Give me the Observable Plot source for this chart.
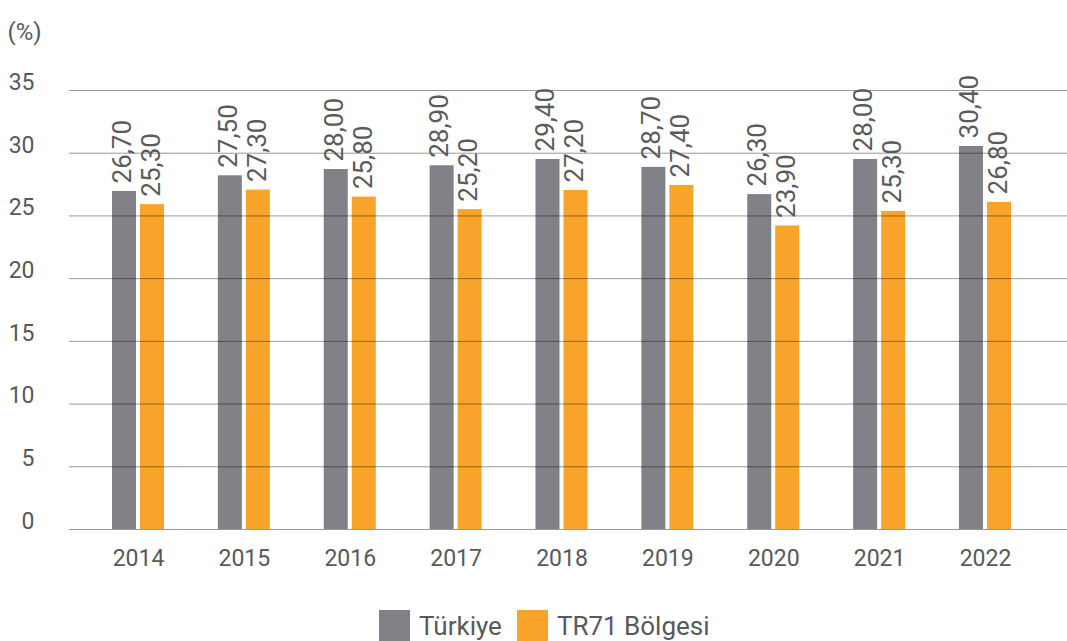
<!DOCTYPE html>
<html>
<head>
<meta charset="utf-8">
<script src="https://cdn.jsdelivr.net/npm/d3@7"></script>
<script src="https://cdn.jsdelivr.net/npm/@observablehq/plot@0.6"></script>
<style>
  body { margin: 0; background: #fff; font-family: Roboto, "DejaVu Sans", sans-serif; }
  #chart svg { display: block; }
  .legend { display: flex; align-items: center; padding-top: 20px; padding-left: 379px; font-size: 26px; color: #58595b; height: 31px; }
  .sw { width: 31px; height: 31px; display: inline-block; margin-right: 9px; }
  .item { display: flex; align-items: center; margin-right: 15px; }
</style>
</head>
<body>
<div id="chart"></div>
<div class="legend">
  <span class="item"><span class="sw" style="background:#818287"></span>Türkiye</span>
  <span class="item"><span class="sw" style="background:#f8a42b"></span>TR71 Bölgesi</span>
</div>
<script>
const years = ["2014","2015","2016","2017","2018","2019","2020","2021","2022"];
const seriesNames = ["Türkiye", "TR71 Bölgesi"];
// bar heights as drawn in the picture
const turkiyeBars = [26.95, 28.2, 28.7, 29.0, 29.5, 28.87, 26.7, 29.5, 30.54];
const tr71Bars = [25.9, 27.06, 26.5, 25.5, 27.03, 27.43, 24.2, 25.36, 26.08];
// value labels printed above the bars
const turkiyeLabels = ["26,70","27,50","28,00","28,90","29,40","28,70","26,30","28,00","30,40"];
const tr71Labels = ["25,30","27,30","25,80","25,20","27,20","27,40","23,90","25,30","26,80"];
const yTicks = [0, 5, 10, 15, 20, 25, 30, 35];
const colors = ["#818287", "#f8a42b"];

const tRows = years.map((year, i) => ({year, v: turkiyeBars[i], label: turkiyeLabels[i], series: seriesNames[0]}));
const rRows = years.map((year, i) => ({year, v: tr71Bars[i], label: tr71Labels[i], series: seriesNames[1]}));

const half = (1037.94 - 85.06) / years.length / 2;

const chart = Plot.plot({
  width: 1067,
  height: 590,
  marginLeft: 69,
  marginRight: 0,
  marginTop: 90,
  marginBottom: 61,
  style: {fontFamily: "Roboto, sans-serif", background: "#fff"},
  x: {domain: years, range: [85.06, 1037.94], padding: 0, round: false, label: null},
  y: {domain: [0, 35], label: null},
  marks: [
    Plot.barY(tRows, {x: "year", y: "v", fill: colors[0], insetLeft: half - 26, insetRight: half + 2}),
    Plot.barY(rRows, {x: "year", y: "v", fill: colors[1], insetLeft: half + 2, insetRight: half - 26}),
    Plot.ruleY(yTicks, {stroke: "#000", strokeOpacity: 0.4, strokeWidth: 1}),
    Plot.text(tRows, {x: "year", y: "v", text: "label", rotate: -90, textAnchor: "start", dx: -16, dy: -8, fontSize: 26, fill: "#5a5b5d"}),
    Plot.text(rRows, {x: "year", y: "v", text: "label", rotate: -90, textAnchor: "start", dx: 13, dy: -8, fontSize: 26, fill: "#5a5b5d"}),
    Plot.axisY({ticks: yTicks, tickSize: 0, tickPadding: 35, dy: -8, fontSize: 23, fill: "#58595b", label: null}),
    Plot.axisX({tickSize: 0, tickPadding: 20, fontSize: 23, fill: "#58595b", label: null}),
    Plot.text(["(%)"], {frameAnchor: "top-left", dx: -62, dy: -68, textAnchor: "start", fontSize: 24, fill: "#58595b"})
  ]
});
document.getElementById("chart").appendChild(chart);
</script>
</body>
</html>
